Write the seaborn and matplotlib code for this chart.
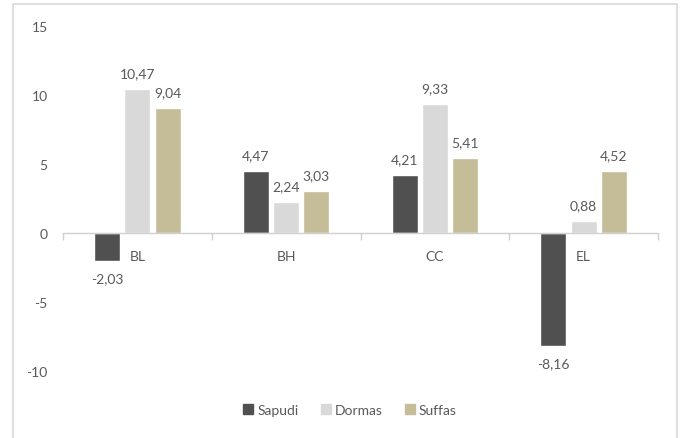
import matplotlib
matplotlib.use("Agg")
import matplotlib.pyplot as plt
import matplotlib.patches as mpatches
import seaborn as sns
import pandas as pd

categories = ["BL", "BH", "CC", "EL"]
series_names = ["Sapudi", "Dormas", "Suffas"]
sapudi = [-2.03, 4.47, 4.21, -8.16]
dormas = [10.47, 2.24, 9.33, 0.88]
suffas = [9.04, 3.03, 5.41, 4.52]
y_ticks = [-10, -5, 0, 5, 10, 15]

colors = ["#505050", "#d9d9d9", "#c4bd97"]
text_color = "#595959"
line_color = "#d0d0d0"

sns.set_theme(style="white")
plt.rcParams["font.family"] = ["Lato", "DejaVu Sans"]

rows = []
for name, vals in zip(series_names, [sapudi, dormas, suffas]):
    for cat, v in zip(categories, vals):
        rows.append({"cat": cat, "series": name, "value": v})
df = pd.DataFrame(rows)

fig = plt.figure(figsize=(6.82, 4.39), dpi=100)
ax = fig.add_axes([63 / 682, 1 - 372 / 439, (658 - 63) / 682, (372 - 27) / 439])

sns.barplot(data=df, x="cat", y="value", hue="series", order=categories,
            hue_order=series_names, palette=colors, width=0.61, gap=0.14,
            saturation=1, errorbar=None, legend=False, ax=ax)

# value labels above positive bars, below negative bars
for cont in ax.containers:
    for b in cont:
        h = b.get_height()
        lab = f"{h:.2f}".replace(".", ",")
        x = b.get_x() + b.get_width() / 2
        ax.annotate(lab, (x, h), xytext=(0, 7 if h >= 0 else -8),
                    textcoords="offset points", ha="center",
                    va="bottom" if h >= 0 else "top",
                    fontsize=10, color=text_color)

ax.set_xlim(-0.5, len(categories) - 0.5)
ax.set_ylim(-10, 15)
ax.set_yticks(y_ticks)
ax.set_yticklabels([str(t) for t in y_ticks])
ax.tick_params(axis="y", length=0, pad=11, labelsize=10, labelcolor=text_color)

for s in ["top", "right", "left"]:
    ax.spines[s].set_visible(False)
ax.spines["bottom"].set_position(("data", 0))
ax.spines["bottom"].set_color(line_color)
ax.spines["bottom"].set_linewidth(1)

ax.set_xticks(range(len(categories)))
ax.set_xticklabels(categories)
ax.tick_params(axis="x", which="major", length=0, pad=12, labelsize=10,
               labelcolor=text_color)
ax.set_xticks([i - 0.5 for i in range(len(categories) + 1)], minor=True)
ax.tick_params(axis="x", which="minor", length=5, width=1, color=line_color,
               direction="out", bottom=True)
ax.set_xlabel("")
ax.set_ylabel("")
ax.patch.set_alpha(0)

handles = [mpatches.Patch(color=c, label=n) for c, n in zip(colors, series_names)]
fig.legend(handles=handles, loc="center", bbox_to_anchor=(350 / 682, 1 - 411 / 439),
           ncol=3, frameon=False, fontsize=10, labelcolor=text_color,
           handlelength=0.7, handleheight=0.7, handletextpad=0.3, columnspacing=1.6)

# chart-area frame
fig.patches.append(mpatches.Rectangle((13 / 682, -0.05), (677 - 13) / 682, 1.05 - 5 / 439,
                                      transform=fig.transFigure, fill=False,
                                      edgecolor="#d9d9d9", linewidth=1.2))

fig.savefig("out.png", dpi=100)
